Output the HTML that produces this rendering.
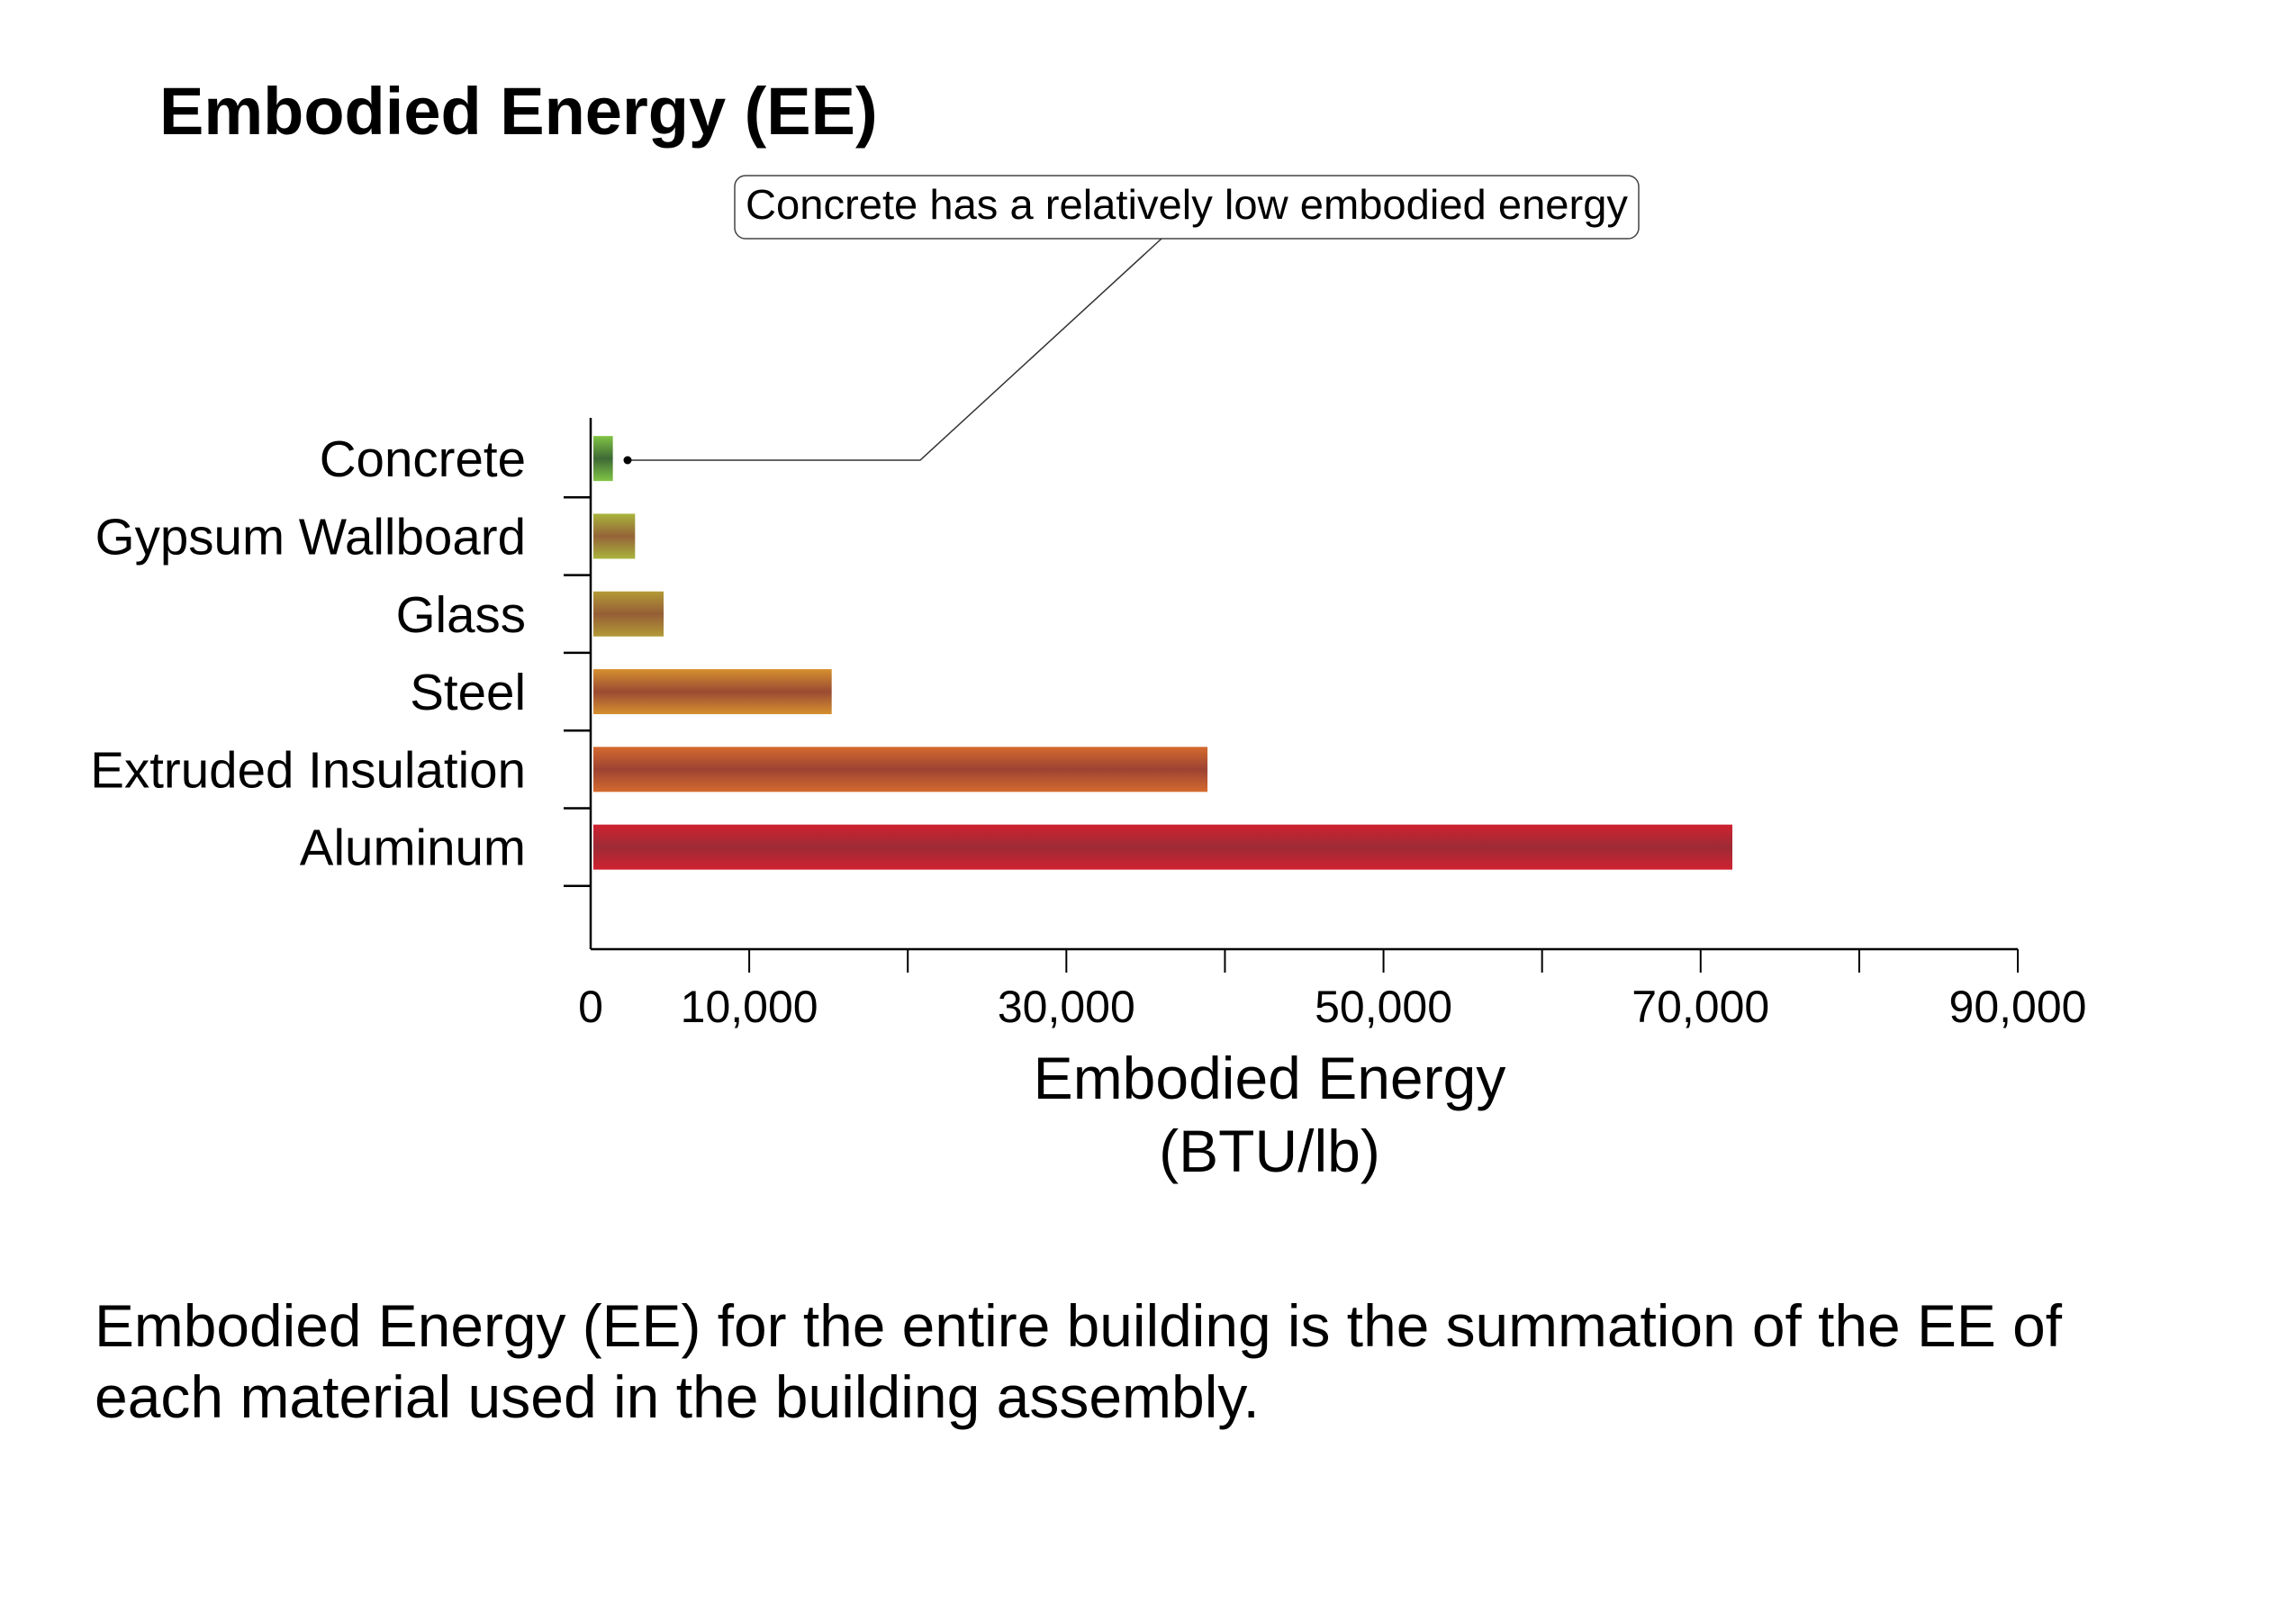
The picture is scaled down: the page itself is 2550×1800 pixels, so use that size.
<!DOCTYPE html>
<html><head><meta charset="utf-8"><style>html,body{margin:0;padding:0;background:#fff}svg{display:block}</style></head>
<body>
<svg id="chart" width="2550" height="1800" viewBox="0 0 2550 1800" xmlns="http://www.w3.org/2000/svg" font-family="Liberation Sans, Arial, sans-serif">
<defs id="defs"></defs>
<text x="177" y="149" font-size="74" font-weight="bold" fill="#000">Embodied Energy (EE)</text>
<g>
<rect x="816" y="195" width="1004" height="70" rx="12" fill="#fff" stroke="#444" stroke-width="1.5"/>
<text x="828" y="243" font-size="46" textLength="980" lengthAdjust="spacingAndGlyphs" fill="#000">Concrete has a relatively low embodied energy</text>
<polyline points="1290,265 1022,511 697,511" fill="none" stroke="#333" stroke-width="1.5"/>
<circle cx="697" cy="511" r="4.5" fill="#000"/>
</g>
<g id="plot"></g>
<text x="1410" y="1220" font-size="66" text-anchor="middle" fill="#000">Embodied Energy</text>
<text x="1410" y="1301" font-size="66" text-anchor="middle" fill="#000">(BTU/lb)</text>
<text x="105" y="1495" font-size="66" textLength="2185" lengthAdjust="spacingAndGlyphs" fill="#000">Embodied Energy (EE) for the entire building is the summation of the EE of</text>
<text x="105" y="1574" font-size="66" fill="#000">each material used in the building assembly.</text>
</svg>
<script>
const categories = ["Concrete","Gypsum Wallboard","Glass","Steel","Extruded Insulation","Aluminum"];
const values = [1400, 2800, 4600, 15200, 38900, 72000];
const edgeColors = ["#80c444","#a9b43c","#b39a36","#d6902f","#d56a2f","#cf2230"];
const midColors = ["#3e6a36","#956338","#955e36","#9a4b33","#9d4333","#9d2b35"];
const tickValues = [0,10000,20000,30000,40000,50000,60000,70000,80000,90000];
const tickLabels = ["0","10,000","","30,000","","50,000","","70,000","","90,000"];

const NS = "http://www.w3.org/2000/svg";
const x0 = 656, x1 = 2241, xMax = 90000;
const yTop = 464, yBottom = 1054, bandTop = 466, band = 86.3, barH = 50;
function xs(v){ return x0 + (v / xMax) * (x1 - x0); }
function yc(i){ return bandTop + band * (i + 0.5); }
const plot = document.getElementById('plot');
const defs = document.getElementById('defs');
function mk(tag, attrs, parent){ const e = document.createElementNS(NS, tag); for (const k in attrs) e.setAttribute(k, attrs[k]); (parent||plot).appendChild(e); return e; }

categories.forEach((c, i) => {
  const g = mk('linearGradient', {id:'grad'+i, x1:0, y1:0, x2:0, y2:1}, defs);
  mk('stop', {offset:'0', 'stop-color': edgeColors[i]}, g);
  mk('stop', {offset:'0.5', 'stop-color': midColors[i]}, g);
  mk('stop', {offset:'1', 'stop-color': edgeColors[i]}, g);
  const r = mk('rect', {x: x0 + 3, y: yc(i) - barH/2, width: Math.max(0, xs(values[i]) - x0 - 3), height: barH, fill: 'url(#grad'+i+')'});
  
  
  const t = mk('text', {x: 584, y: yc(i) + 20, 'font-size': 56.5, 'text-anchor': 'end', fill: '#000'});
  t.textContent = c;
  
  
  const tk = mk('line', {x1: 626, x2: x0, y1: bandTop + band*(i+1), y2: bandTop + band*(i+1), stroke:'#000', 'stroke-width': 2.5});
  
  
});

const ya = mk('line', {x1: x0, x2: x0, y1: yTop, y2: yBottom, stroke:'#000', 'stroke-width': 2.5});


const xa = mk('line', {x1: x0, x2: x1, y1: yBottom, y2: yBottom, stroke:'#000', 'stroke-width': 2.5});



tickValues.forEach((v, i) => {
  if (i > 0) {
    const l = mk('line', {x1: xs(v), x2: xs(v), y1: yBottom, y2: 1080, stroke:'#000', 'stroke-width': 2});
    
    
  }
  if (tickLabels[i]) {
    const t = mk('text', {x: xs(v), y: 1135, 'font-size': 50, 'text-anchor': 'middle', fill:'#000'});
    t.textContent = tickLabels[i];
    
    
  }
});
</script>
</body></html>
